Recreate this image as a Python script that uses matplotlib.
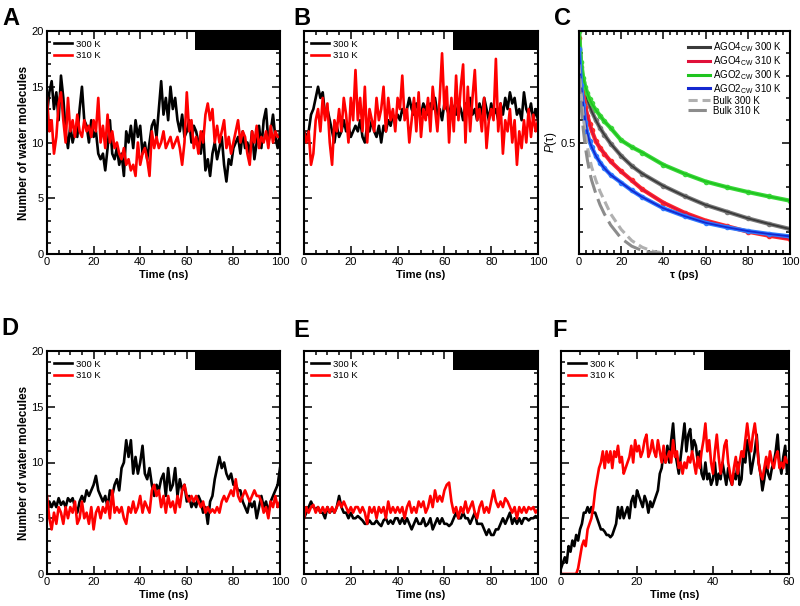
import numpy as np
import matplotlib
matplotlib.use('Agg')
import matplotlib.pyplot as plt
from matplotlib.ticker import MultipleLocator, FixedLocator
from matplotlib.lines import Line2D

plt.rcParams['font.family'] = ['Liberation Sans', 'DejaVu Sans']
plt.rcParams['mathtext.fontset'] = 'custom'
plt.rcParams['mathtext.rm'] = 'Liberation Sans'
plt.rcParams['mathtext.it'] = 'Liberation Sans:italic'

# ---------------- data ----------------
time_100 = np.arange(0, 101, 1.0)
time_60 = np.arange(0, 60.5, 0.5)

A_300 = [12.5,14.5,15.5,13,14.5,12,16,14,11,9.5,
         11.5,10,11,10.5,13,15,12,11.5,10,12,
         10.5,11,9,8.5,9,7.5,9.5,12,9,8.5,
         9.5,8,9,7,11,10,11.5,9.5,12,10.5,
         11.5,9,10,8.5,10,11.5,12,10.5,13,15.5,
         12.5,14,12,15,13,14,12,11,12.5,10.5,
         11,12,10,11.5,11,10,9,11,7.5,8.5,
         7,9,10,8.5,9.5,10.5,8,6.5,8.5,8,
         9.5,10,10.5,9,11,9.5,10,9,11,8.5,
         10,11.5,9.5,12,13,10,11,12.5,10.5,9.5,
         11]
A_310 = [14,11,12,9,10.5,13.5,14.5,12,10,14,
         11,12,10.5,12.5,11,10.5,12,11,11.5,10.5,
         12,11,14,10,11.5,9.5,12.5,10,11,9.5,
         10,9,8.5,9.5,8,8.5,7.5,8,7,10,
         8,9,9.5,8.5,7,11,9.5,10.5,9.5,10,
         11,9.5,10,10.5,9.5,10,10.5,9.5,8,10,
         14.5,11,12,9.5,10.5,9,11,10,12.5,13.5,
         12,13,10,11.5,10,11,12,9.5,10.5,9,
         10,11,12,10,11,10.5,9,8,11,10,
         11.5,9.5,10.5,10,11,9.5,11.5,10,11,10.5,
         10.5]
B_300 = [11,10.5,11,12.5,13,14,15,14,14.5,12.5,
         13,12,11,10,11.5,10.5,11,12,11,11.5,
         10.5,11,11.5,11,12,10.5,10,11.5,11,12,
         11,10.5,11.5,10,11.5,11,12,11.5,12.5,12,
         12.5,12,13,12.5,13,14,13,12.5,13.5,13,
         12.5,13.5,13,12.5,13.5,13,14,12.5,13,12,
         13.5,13,12.5,13.5,13,12.5,13.5,13,12,13.5,
         13,14,12.5,13,12,13.5,12.5,14,13,12,
         13.5,12.5,13,12,13.5,12.5,14,13,14.5,13.5,
         14,12.5,13,12,14.5,13,12.5,13.5,12,13,
         12]
B_310 = [11,10,11,8,9,12,13,11,14,12,
         13.5,10,8,12,11,13,11,14,12.5,10,
         14,12,16.5,12,14,11,15,10,13,12,
         11,14,12,13,15,11,14,12,13,11,
         14,13,16,12,13,10,12,14,11,14.5,
         10.5,13,12,14,11,15,13,11,14,18,
         13,15,10,14,11,16,12,15,17,10,
         15,11,14,16.5,12,13,11,14,9.5,12,
         13,12,17.5,11,13.5,9,12,11,13,10,
         12,8,11,9.5,12,10,13,10.5,12.5,11,
         12]
D_300 = [5.5,6.5,6,6.5,6,6.8,6.2,6.5,6,6.8,
         6.5,6.8,6,5.5,6.5,7,6.5,7.5,7,7.5,
         8,8.8,7.5,7,6.5,7,6,7.5,7,8,
         8.5,7.5,9.5,10,12,10.5,12,9,10.5,9,
         10,11.5,9,8.5,9.5,8,7,8,7.5,8.5,
         9,7,9.5,7.5,8,9.5,7,8.5,7.5,8,
         6.5,7,6,6.5,6,7,6.5,5.5,6,4.5,
         6.5,7,8.5,9.5,10.5,9.5,10,9,8.5,9,
         8,8,7.5,7.5,6.5,6,5.5,6.5,6,6.5,
         5,6,7,6,6.5,5.5,6.5,7,7.5,8,
         9.5]
D_310 = [7,5,4,5.5,4.5,6,5.5,4.5,6,5,
         6,5.5,6.5,4.5,5,6.5,5,5.5,4.5,6,
         4,5.5,6,5,6,5.5,6.5,5,7.5,5.5,
         6,5.5,6,5,4.5,6,5.5,6.5,5.5,6,
         7,5.5,6.5,6,5.5,7.5,8,7,7.5,6,
         7,5.5,7,6,6.5,5.5,7,6,7.5,8,
         7,6.5,7,6.5,7,6.5,6,6.5,5.5,6,
         5.5,5.8,5.5,6,5.5,6.5,7,6.5,7,7.5,
         7,8.5,7,6.5,7,7.5,7,6.5,7,7.5,
         7,7,6.5,5.5,6,5,6.5,6,7,6,
         6.5]
E_300 = [5,5.5,6,6.5,6,5.8,6,5.5,5.5,5,
         6,5.5,5.8,5.5,6,7,6,5.5,5.5,5,
         5.5,5,5,5.2,5,4.8,4.5,4.5,4.8,4.5,
         4.5,4.8,4.5,4.3,4.8,5,4.5,4.8,4.5,5,
         5,4.5,5,4.5,5,4.5,4,4.5,5,4.5,
         4.5,5,4.3,4.5,5,4,4.5,5,4.5,5,
         4.5,4.5,4.3,4.5,5,5.5,5,5,5.5,5,
         5,4.5,5,5.5,4.5,4.5,4.5,4,3.5,4,
         3.5,3.5,4,4,4.5,5,4.5,5,5.5,4.5,
         5,4.5,5,4.5,5,5,4.8,5,5,5.2,
         5]
E_310 = [5,6,5.5,6,6.2,5.5,6,5.5,6,5.5,
         6,5.5,6,5.5,6,6.5,6,6.5,6,5.5,
         6,5.5,6,6,5.5,6,5.5,4.5,6,5.5,
         6,5,6,5.5,6,5,6.5,5.5,6,5.5,
         6,5.5,6,5,6,6.5,5.5,6,5.5,6.5,
         6,6.5,5.5,6,7,6,7.5,6.5,7,6.5,
         7.5,8,8.2,6.5,5.5,6,5,6,5.5,6.5,
         5.5,6,6.5,5.5,5,6,6.5,5.5,6,5.5,
         6.5,7.5,6.5,6,6.5,6,6.8,6.5,6,5.5,
         6,5,6,5.5,6,5.5,6,5.8,6,5.5,
         5.8]
F_300 = [0.5,1,1.5,1,2.5,2,3,2.5,3.5,3,
         4,4.5,5.5,5.5,6,5.5,6,5.5,5.5,5,
         4.5,4,4,3.8,3.5,3.5,3.3,3.5,4,4.5,
         6,5,6,5,5.5,6,5,6.5,7,6,
         7.5,7,6.5,6,7,6.5,5.5,6.5,6,6.5,
         7,7.5,9,9.5,11,10,11.5,10,12,13.5,
         11,10,9,10.5,12,13.5,11,12.5,13,11,
         12,11.5,10,11,9,8.5,10,8.5,9,8,
         8.5,10,8,9,8.5,10,9,8,9.5,8.5,
         8,9,8.5,10,8,8.5,11,10,12,11,
         9,10,11,12.5,10,9,7.5,8.5,10,9,
         8.5,9.5,10,11,12.5,10,9,10.5,11.5,9,
         10]
F_310 = [0,0,0,0,0,0,0,0,0,0.5,
         1.5,2.5,3,2.5,4,4.5,5,6,7.5,8.5,
         9.5,10,11,9.5,11,10,11,9.5,11,10.5,
         11.5,10,10.5,9,9.5,10,10.5,11.5,10,12,
         11,11.5,10.5,11,12,12.5,10.5,11,12,11,
         10.5,12,11,10,11.5,10,10.5,11,10,12,
         10.5,11,9.5,10,9,10,9.5,10.5,10,11,
         10,9,10.5,9.5,11,12,13.5,11,12,10,
         9,11,12.5,10.5,9,10,11.5,12,10,9,
         8,9.5,10.5,9,10,11,10.5,12,13.5,12,
         11,12.5,13.5,12,10,9,8.5,9.5,10.5,9.5,
         11,10,9.5,10.5,11,9.5,10,9.5,10.5,10,
         10]

# black bar (time window) start per panel
bar_start = {'A': 63.5, 'B': 63.5, 'D': 63.5, 'E': 63.5, 'F': 37.5}

# Panel C: survival probabilities
tau = [0,1,2,3,4,5,6,8,10,12,15,20,25,30,40,50,60,70,80,90,100]
ago4_300 = [1.0,0.84,0.77,0.72,0.69,0.665,0.64,0.60,0.565,0.535,0.495,0.44,0.395,0.36,0.305,0.26,0.22,0.19,0.16,0.135,0.112]
ago4_310 = [0.97,0.80,0.72,0.66,0.62,0.585,0.555,0.505,0.475,0.45,0.415,0.37,0.33,0.29,0.23,0.185,0.15,0.125,0.10,0.082,0.067]
ago2_300 = [1.0,0.86,0.79,0.75,0.72,0.695,0.675,0.645,0.62,0.595,0.565,0.51,0.48,0.455,0.40,0.36,0.325,0.30,0.278,0.258,0.239]
ago2_310 = [0.92,0.76,0.67,0.59,0.54,0.505,0.48,0.44,0.41,0.385,0.355,0.32,0.285,0.255,0.205,0.17,0.14,0.12,0.103,0.09,0.079]
tau_bulk = [0,1,2,3,4,5,6,8,10,12,15,20,25,30,35,40]
bulk_300 = [0.85,0.72,0.62,0.54,0.48,0.43,0.39,0.33,0.28,0.24,0.18,0.11,0.06,0.03,0.012,0.005]
bulk_310 = [0.80,0.66,0.56,0.48,0.42,0.37,0.33,0.27,0.22,0.18,0.13,0.07,0.035,0.015,0.005,0.0]

# ---------------- figure ----------------
fig = plt.figure(figsize=(8, 6.06), dpi=100)
W, H = 800, 606

def add_ax(x0, x1, ytop, ybot):
    return fig.add_axes([x0 / W, 1 - ybot / H, (x1 - x0) / W, (ybot - ytop) / H])

def style(ax):
    ax.tick_params(which='both', direction='in', top=True, right=True,
                   labelsize=8, width=1.1, pad=2.5)
    ax.tick_params(which='major', length=5.5)
    ax.tick_params(which='minor', length=2.8)
    for s in ax.spines.values():
        s.set_linewidth(1.5)

def ts_panel(ax, t, s300, s310, xmax, key, ylab):
    ax.plot(t, s300, color='black', lw=1.9, label='300 K')
    ax.plot(t, s310, color='#ff0000', lw=1.9, label='310 K')
    ax.axvspan(bar_start[key], xmax, ymin=0.915, ymax=1.0, color='black', lw=0)
    ax.set_xlim(0, xmax)
    ax.set_ylim(0, 20)
    ax.xaxis.set_major_locator(MultipleLocator(20))
    ax.xaxis.set_minor_locator(MultipleLocator(5))
    ax.yaxis.set_major_locator(MultipleLocator(5))
    ax.yaxis.set_minor_locator(MultipleLocator(1))
    style(ax)
    ax.set_xlabel('Time (ns)', fontsize=8, fontweight='bold', labelpad=2)
    if ylab:
        ax.set_ylabel('Number of water molecules', fontsize=8.5, fontweight='bold', labelpad=1)
    else:
        ax.tick_params(axis='y', labelleft=False)
    ax.legend(loc='upper left', bbox_to_anchor=(0.015, 0.978), borderaxespad=0,
              frameon=False, fontsize=6.8, handlelength=1.9, handletextpad=0.45,
              labelspacing=0.25)

axA = add_ax(47, 280, 31, 254)
ts_panel(axA, time_100, A_300, A_310, 100, 'A', True)
axB = add_ax(304, 538, 31, 254)
ts_panel(axB, time_100, B_300, B_310, 100, 'B', False)
axD = add_ax(47, 280, 351, 574)
ts_panel(axD, time_100, D_300, D_310, 100, 'D', True)
axE = add_ax(304, 538, 351, 574)
ts_panel(axE, time_100, E_300, E_310, 100, 'E', False)
axF = add_ax(561, 789, 351, 574)
ts_panel(axF, time_60, F_300, F_310, 60, 'F', False)

# Panel C
axC = add_ax(579, 790, 31, 254)
curves = [
    (ago4_300, '#3a3a3a', '#7a7a7a', 'AGO4$_{\\mathrm{CW}}$ 300 K'),
    (ago4_310, '#e0103a', '#ff2a2a', 'AGO4$_{\\mathrm{CW}}$ 310 K'),
    (ago2_300, '#1fc41f', '#3ad83a', 'AGO2$_{\\mathrm{CW}}$ 300 K'),
    (ago2_310, '#1428d0', '#2f7bff', 'AGO2$_{\\mathrm{CW}}$ 310 K'),
]
handles = []
for y, dark, light, lab in curves:
    axC.plot(tau, y, color=light, lw=3.0, marker='o', ms=3.0, mec=light, mfc=light)
    axC.plot(tau, y, color=dark, lw=1.3)
    handles.append(Line2D([0], [0], color=dark, lw=2.2, label=lab))
axC.plot(tau_bulk, bulk_300, color='#b0b0b0', lw=2.2, dashes=(3, 1.6))
axC.plot(tau_bulk, bulk_310, color='#8c8c8c', lw=2.2, dashes=(6, 2.2))
handles.append(Line2D([0], [0], color='#b0b0b0', lw=2.2, dashes=(3, 1.6), label='Bulk 300 K'))
handles.append(Line2D([0], [0], color='#8c8c8c', lw=2.2, dashes=(6, 2.2), label='Bulk 310 K'))
axC.set_xlim(0, 100)
axC.set_ylim(0, 1)
axC.xaxis.set_major_locator(MultipleLocator(20))
axC.xaxis.set_minor_locator(MultipleLocator(20 / 6))
axC.yaxis.set_major_locator(FixedLocator([0.5]))
axC.yaxis.set_minor_locator(MultipleLocator(0.1))
style(axC)
axC.set_xlabel('τ (ps)', fontsize=8, fontweight='bold', labelpad=2)
axC.set_ylabel('$P$(τ)', fontsize=8.5, labelpad=1)
axC.legend(handles=handles, loc='upper right', bbox_to_anchor=(0.982, 0.975),
           borderaxespad=0, frameon=False, fontsize=7, handlelength=2.2,
           handletextpad=0.4, labelspacing=0.0)

# panel letters
letters = [('A', 2, 25), ('B', 293, 25), ('C', 554, 25),
           ('D', 1, 335), ('E', 293, 337), ('F', 552, 337)]
for L, x, y in letters:
    fig.text(x / W, 1 - y / H, L, fontsize=17, fontweight='bold',
             ha='left', va='baseline')

fig.savefig('out.png', dpi=100)
